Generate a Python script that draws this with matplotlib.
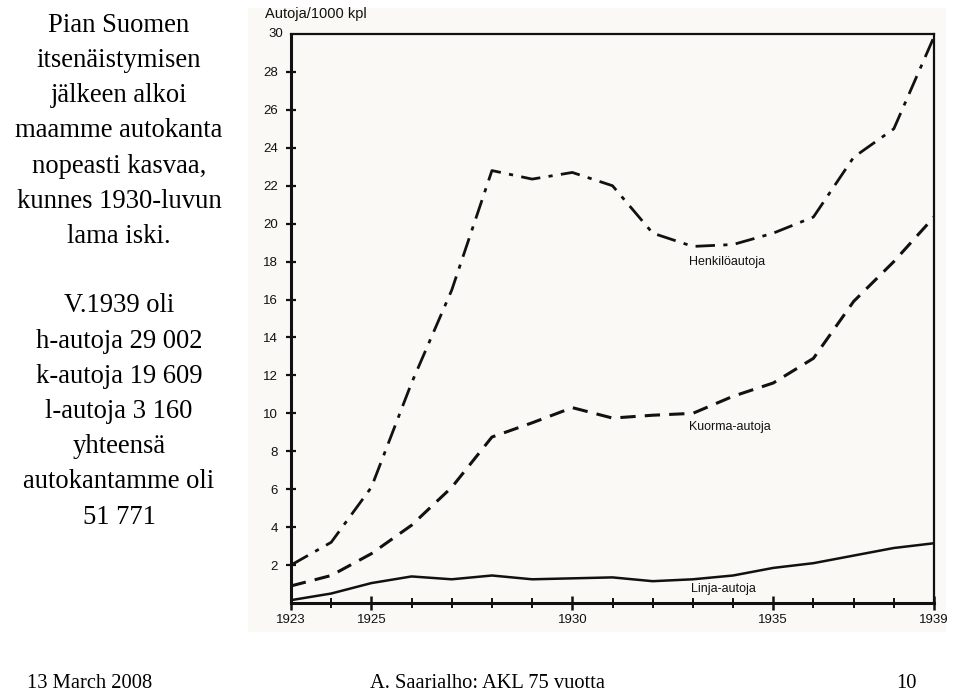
import matplotlib
matplotlib.use("Agg")
import matplotlib.pyplot as plt
from matplotlib.patches import Rectangle
from matplotlib.ticker import FixedLocator, NullFormatter

years = [1923, 1924, 1925, 1926, 1927, 1928, 1929, 1930, 1931,
         1932, 1933, 1934, 1935, 1936, 1937, 1938, 1939]
henkilo = [2.0, 3.2, 6.1, 11.6, 16.5, 22.8, 22.35, 22.7, 22.0,
           19.5, 18.8, 18.9, 19.5, 20.35, 23.5, 25.0, 29.85]
kuorma = [0.9, 1.45, 2.6, 4.1, 6.1, 8.75, 9.5, 10.3, 9.75,
          9.9, 10.0, 10.9, 11.6, 12.9, 15.9, 18.0, 20.35]
linja = [0.15, 0.5, 1.05, 1.4, 1.25, 1.45, 1.25, 1.3, 1.35,
         1.15, 1.25, 1.45, 1.85, 2.1, 2.5, 2.9, 3.15]

y_ticks = [2, 4, 6, 8, 10, 12, 14, 16, 18, 20, 22, 24, 26, 28]
x_major = [1923, 1925, 1930, 1935, 1939]
series_labels = ["Henkilöautoja", "Kuorma-autoja", "Linja-autoja"]
y_title = "Autoja/1000 kpl"

left_lines = ["Pian Suomen", "itsenäistymisen", "jälkeen alkoi",
              "maamme autokanta", "nopeasti kasvaa,", "kunnes 1930-luvun",
              "lama iski."]
left_lines2 = ["V.1939 oli", "h-autoja 29 002", "k-autoja 19 609",
               "l-autoja 3 160", "yhteensä", "autokantamme oli", "51 771"]
footer = ["13 March 2008", "A. Saarialho: AKL 75 vuotta", "10"]

W, H = 960, 692
fig = plt.figure(figsize=(W / 100, H / 100), dpi=100)
fig.patch.set_facecolor("white")

# scanned-image background
bg = fig.add_axes([0, 0, 1, 1])
bg.set_xlim(0, W)
bg.set_ylim(H, 0)
bg.axis("off")
bg.set_zorder(0)
bg.add_patch(Rectangle((248, 8), 946 - 248, 632 - 8, facecolor="#fbf9f5",
                       edgecolor="none"))

x0, x1 = 291, 934
y0, y1 = 603, 34
ax = fig.add_axes([x0 / W, 1 - y0 / H, (x1 - x0) / W, (y0 - y1) / H])
ax.set_zorder(2)
ax.set_facecolor("none")
ax.set_xlim(1923, 1939)
ax.set_ylim(0, 30)

ink = "#111111"
ax.plot(years, henkilo, color=ink, lw=2.0, linestyle=(0, (7, 3, 1.5, 3)))
ax.plot(years, kuorma, color=ink, lw=2.2, linestyle=(0, (5, 3)))
ax.plot(years, linja, color=ink, lw=1.8)

for s in ["left", "bottom"]:
    ax.spines[s].set_linewidth(2.2)
    ax.spines[s].set_color(ink)
for s in ["top", "right"]:
    ax.spines[s].set_linewidth(1.6)
    ax.spines[s].set_color(ink)

tick_fs = 9.5
ax.yaxis.set_major_locator(FixedLocator(y_ticks))
ax.set_yticklabels([str(v) for v in y_ticks])
ax.tick_params(axis="y", direction="inout", length=7, width=1.6, pad=6,
               labelsize=tick_fs, colors=ink)
ax.xaxis.set_major_locator(FixedLocator(x_major))
ax.set_xticklabels([str(v) for v in x_major])
ax.xaxis.set_minor_locator(FixedLocator(years))
ax.xaxis.set_minor_formatter(NullFormatter())
ax.tick_params(axis="x", which="major", direction="inout", length=10, width=1.8,
               pad=3, labelsize=tick_fs, colors=ink)
ax.tick_params(axis="x", which="minor", direction="inout", length=7, width=1.4, colors=ink)
for lab in ax.get_xticklabels() + ax.get_yticklabels():
    lab.set_fontfamily("Liberation Sans")

ax.text(-0.012, 1.0, "30", transform=ax.transAxes, ha="right", va="center",
        fontsize=tick_fs, family="Liberation Sans", color=ink)
ax.text(-0.04, 1.022, y_title, transform=ax.transAxes, ha="left", va="bottom",
        fontsize=10.5, family="Liberation Sans", color=ink)

lab_fs = 9
ax.text(1933.85, 18.0, series_labels[0], ha="center", va="center", fontsize=lab_fs,
        family="Liberation Sans", color=ink)
ax.text(1933.92, 9.28, series_labels[1], ha="center", va="center", fontsize=lab_fs,
        family="Liberation Sans", color=ink)
ax.text(1933.75, 0.74, series_labels[2], ha="center", va="center", fontsize=lab_fs,
        family="Liberation Sans", color=ink)

# left text
cx = 119 / W
for i, t in enumerate(left_lines):
    fig.text(cx, 1 - (25 + i * 35.3) / H, t, ha="center", va="center",
             fontsize=19.2, family="Liberation Serif", color="black")
for i, t in enumerate(left_lines2):
    fig.text(cx, 1 - (306 + i * 35.2) / H, t, ha="center", va="center",
             fontsize=19.2, family="Liberation Serif", color="black")

# footer
fy = 1 - 684 / H
fig.text(27 / W, fy, footer[0], ha="left", va="center", fontsize=14.8,
         family="Liberation Serif")
fig.text(487 / W, fy, footer[1], ha="center", va="center", fontsize=14.8,
         family="Liberation Serif")
fig.text(917 / W, fy, footer[2], ha="right", va="center", fontsize=14.8,
         family="Liberation Serif")

fig.savefig("out.png", dpi=100)
